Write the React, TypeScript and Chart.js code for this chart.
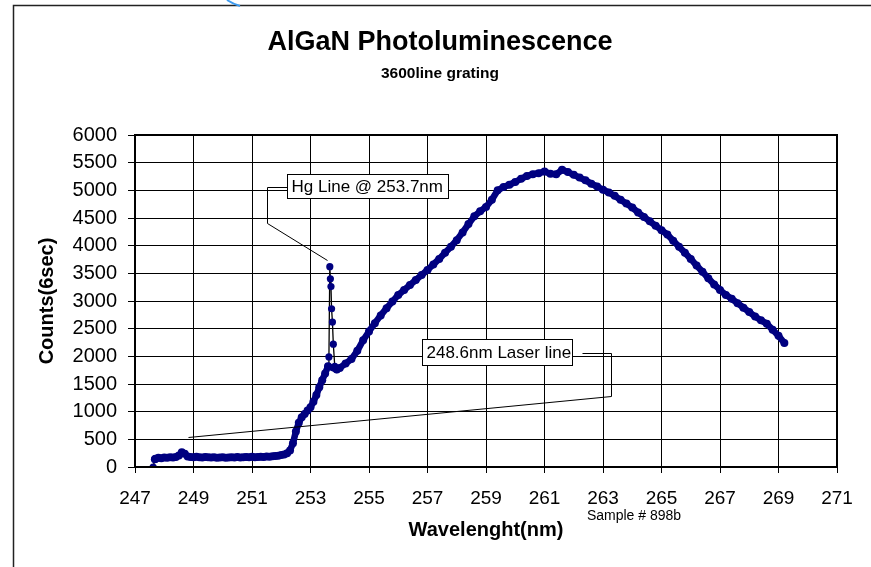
import React, { useEffect, useRef } from "react";
import { Chart, registerables } from "chart.js";

Chart.register(...registerables);

// ---- Data ----
const startWavelength = [247.62, 247.68];
const startCounts = [0, 140];

const mainWavelength = [
  247.68, 247.7, 247.8, 247.9, 248.0, 248.1, 248.2, 248.3, 248.4, 248.5, 248.6, 248.7, 248.8, 248.9,
  249.0, 249.1, 249.2, 249.3, 249.4, 249.5, 249.6, 249.7, 249.8, 249.9, 250.0, 250.1, 250.2, 250.3,
  250.4, 250.5, 250.6, 250.7, 250.8, 250.9, 251.0, 251.1, 251.2, 251.3, 251.4, 251.5, 251.6, 251.7,
  251.8, 251.9, 252.0, 252.1, 252.2, 252.3, 252.4, 252.5, 252.6, 252.7, 252.8, 252.9, 253.0, 253.1,
  253.2, 253.3, 253.4, 253.5, 253.6, 253.9, 254.0, 254.2, 254.4, 254.6, 254.8, 255.0, 255.2, 255.4,
  255.6, 255.8, 256.0, 256.2, 256.4, 256.6, 256.8, 257.0, 257.2, 257.4, 257.6, 257.8, 258.0, 258.2,
  258.4, 258.6, 258.8, 259.0, 259.2, 259.4, 259.6, 259.8, 260.0, 260.2, 260.4, 260.6, 260.8, 261.0,
  261.2, 261.4, 261.6, 261.8, 262.0, 262.2, 262.4, 262.6, 262.8, 263.0, 263.2, 263.4, 263.6, 263.8,
  264.0, 264.2, 264.4, 264.6, 264.8, 265.0, 265.2, 265.4, 265.6, 265.8, 266.0, 266.2, 266.4, 266.6,
  266.8, 267.0, 267.2, 267.4, 267.6, 267.8, 268.0, 268.2, 268.4, 268.6, 268.8, 269.0, 269.2,
];
const mainCounts = [
  140, 150, 165, 160, 170, 165, 175, 170, 180, 210, 265, 240, 190, 180,
  175, 185, 175, 170, 180, 175, 170, 175, 165, 170, 175, 165, 170, 175,
  170, 180, 170, 175, 180, 175, 185, 175, 180, 185, 180, 190, 185, 195,
  200, 205, 215, 225, 250, 300, 430, 640, 800, 900, 960, 1020, 1080, 1180,
  1300, 1440, 1570, 1690, 1820, 1760, 1790, 1870, 1950, 2100, 2290, 2450, 2600, 2740,
  2870, 2990, 3110, 3200, 3290, 3380, 3470, 3560, 3660, 3760, 3870, 3980, 4100, 4240,
  4390, 4530, 4620, 4700, 4830, 5000, 5060, 5100, 5150, 5210, 5260, 5290, 5310, 5340,
  5300, 5290, 5370, 5330, 5280, 5230, 5180, 5120, 5070, 5010, 4960, 4900, 4830, 4760,
  4690, 4600, 4520, 4440, 4360, 4280, 4200, 4090, 3980, 3870, 3760, 3640, 3530, 3410,
  3300, 3200, 3110, 3040, 2960, 2880, 2800, 2720, 2650, 2590, 2480, 2370, 2240,
];

const hgWavelength = [253.6, 253.63, 253.66, 253.68, 253.7, 253.72, 253.75, 253.78, 253.83, 253.9];
const hgCounts = [1820, 1990, 3620, 3400, 3260, 2860, 2620, 2220, 1820, 1760];

const xTickMin = 247;
const xTickMax = 271;
const xTickStep = 2;
const yTickMin = 0;
const yTickMax = 6000;
const yTickStep = 500;

const titleText = "AlGaN Photoluminescence";
const subtitleText = "3600line grating";
const xTitle = "Wavelenght(nm)";
const yTitle = "Counts(6sec)";
const sampleText = "Sample # 898b";

// annotations anchored in data units
const hgLabel = "Hg Line @ 253.7nm";
const hgBox = { x0: 252.2, x1: 257.69, y0: 5295, y1: 4855 };
const hgConnector = [
  [252.18, 5065],
  [251.5, 5065],
  [251.5, 4415],
  [253.55, 3740],
];
const laserLabel = "248.6nm Laser line";
const laserBox = { x0: 256.8, x1: 261.93, y0: 2307, y1: 1843 };
const laserConnector = [
  [262.27, 2054],
  [263.26, 2054],
  [263.26, 1283],
  [248.82, 547],
];

const FONT = "'Liberation Sans', Arial, Helvetica, sans-serif";
const NAVY = "#000080";

const toPts = (xs: number[], ys: number[]) => xs.map((x, i) => ({ x, y: ys[i] }));

const decorPlugin = {
  id: "decor",
  beforeDraw(chart: any) {
    const { ctx } = chart;
    ctx.save();
    ctx.fillStyle = "#fff";
    ctx.fillRect(0, 0, chart.width, chart.height);
    ctx.restore();
  },
  afterDraw(chart: any) {
    const { ctx, chartArea: ca } = chart;
    const xs = chart.scales.x;
    const ys = chart.scales.y;
    const px = (v: number) => xs.getPixelForValue(v);
    const py = (v: number) => ys.getPixelForValue(v);
    ctx.save();

    // plot area border
    ctx.strokeStyle = "#000";
    ctx.lineWidth = 2;
    ctx.strokeRect(ca.left, ca.top, ca.right - ca.left, ca.bottom - ca.top);

    // outer chart frame
    ctx.lineWidth = 1.5;
    ctx.strokeStyle = "#222";
    ctx.beginPath();
    ctx.moveTo(13.5, chart.height);
    ctx.lineTo(13.5, 5.5);
    ctx.lineTo(chart.width, 5.5);
    ctx.stroke();

    // small blue stroke at the top edge
    ctx.strokeStyle = "#3d9bf0";
    ctx.lineWidth = 2;
    ctx.beginPath();
    ctx.moveTo(227, 0);
    ctx.quadraticCurveTo(233, 4, 240, 6);
    ctx.stroke();

    // titles
    ctx.fillStyle = "#000";
    ctx.textAlign = "center";
    ctx.textBaseline = "middle";
    ctx.font = `bold 27px ${FONT}`;
    ctx.fillText(titleText, 440, 43);
    ctx.font = `bold 15.5px ${FONT}`;
    ctx.fillText(subtitleText, 440, 74);

    ctx.font = `bold 20px ${FONT}`;
    ctx.fillText(xTitle, (ca.left + ca.right) / 2, 530);
    ctx.save();
    ctx.translate(47, (ca.top + ca.bottom) / 2);
    ctx.rotate(-Math.PI / 2);
    ctx.fillText(yTitle, 0, 0);
    ctx.restore();

    ctx.font = `14px ${FONT}`;
    ctx.fillText(sampleText, 634, 516);

    // annotations
    const drawAnn = (label: string, box: any, conn: number[][]) => {
      ctx.strokeStyle = "#000";
      ctx.lineWidth = 1;
      ctx.beginPath();
      conn.forEach(([cx, cy], i) => {
        const X = Math.round(px(cx)) + 0.5;
        const Y = Math.round(py(cy)) + 0.5;
        if (i === 0) ctx.moveTo(X, Y);
        else ctx.lineTo(X, Y);
      });
      ctx.stroke();
      const bx0 = Math.round(px(box.x0)) + 0.5;
      const bx1 = Math.round(px(box.x1)) + 0.5;
      const by0 = Math.round(py(box.y0)) + 0.5;
      const by1 = Math.round(py(box.y1)) + 0.5;
      ctx.fillStyle = "#fff";
      ctx.fillRect(bx0, by0, bx1 - bx0, by1 - by0);
      ctx.strokeRect(bx0, by0, bx1 - bx0, by1 - by0);
      ctx.fillStyle = "#000";
      ctx.font = `17px ${FONT}`;
      ctx.textAlign = "left";
      ctx.textBaseline = "middle";
      ctx.fillText(label, bx0 + 4, (by0 + by1) / 2 + 1);
    };
    drawAnn(hgLabel, hgBox, hgConnector);
    drawAnn(laserLabel, laserBox, laserConnector);

    ctx.restore();
  },
};

export default function App() {
  const ref = useRef<HTMLCanvasElement | null>(null);
  useEffect(() => {
    if (!ref.current) return;
    const chart = new Chart(ref.current, {
      type: "scatter",
      data: {
        datasets: [
          {
            label: "main",
            data: toPts(mainWavelength, mainCounts),
            showLine: true,
            borderColor: NAVY,
            borderWidth: 6.5,
            pointRadius: 4,
            pointBackgroundColor: NAVY,
            pointBorderColor: NAVY,
            pointBorderWidth: 0,
            borderJoinStyle: "round",
            borderCapStyle: "round",
          } as any,
          {
            label: "hg",
            data: toPts(hgWavelength, hgCounts),
            showLine: true,
            borderColor: "#000",
            borderWidth: 1.3,
            pointRadius: 3.6,
            pointStyle: "circle",
            pointBackgroundColor: NAVY,
            pointBorderColor: NAVY,
            pointBorderWidth: 0,
          } as any,
          {
            label: "start",
            data: toPts(startWavelength, startCounts),
            showLine: true,
            borderColor: "#000",
            borderWidth: 1.3,
            pointRadius: 3.6,
            pointBackgroundColor: NAVY,
            pointBorderColor: NAVY,
            pointBorderWidth: 0,
          } as any,
        ],
      },
      options: {
        responsive: false,
        animation: false,
        events: [],
        layout: { padding: { top: 135, right: 34, left: 0, bottom: 0 } },
        plugins: {
          legend: { display: false },
          tooltip: { enabled: false },
          title: { display: false },
        },
        scales: {
          x: {
            type: "linear",
            min: xTickMin,
            max: xTickMax,
            afterFit: (s: any) => {
              s.height = 100;
            },
            ticks: {
              stepSize: xTickStep,
              color: "#000",
              font: { family: FONT, size: 19 },
              padding: 14,
              maxRotation: 0,
              autoSkip: false,
              callback: (v: any) => String(v),
            },
            grid: { color: "#000", lineWidth: 1, tickLength: 6, drawTicks: true },
            border: { display: true, color: "#000", width: 2 },
          },
          y: {
            type: "linear",
            min: yTickMin,
            max: yTickMax,
            afterFit: (s: any) => {
              s.width = 135;
            },
            ticks: {
              stepSize: yTickStep,
              color: "#000",
              font: { family: FONT, size: 20 },
              padding: 11,
              autoSkip: false,
              callback: (v: any) => String(v),
            },
            grid: { color: "#000", lineWidth: 1, tickLength: 7, drawTicks: true },
            border: { display: true, color: "#000", width: 2 },
          },
        },
      } as any,
      plugins: [decorPlugin],
    });
    return () => chart.destroy();
  }, []);
  return (
    <div style={{ position: "absolute", left: 0, top: 0, width: 871, height: 567 }}>
      <canvas ref={ref} width={871} height={567} style={{ width: 871, height: 567, display: "block" }} />
    </div>
  );
}
